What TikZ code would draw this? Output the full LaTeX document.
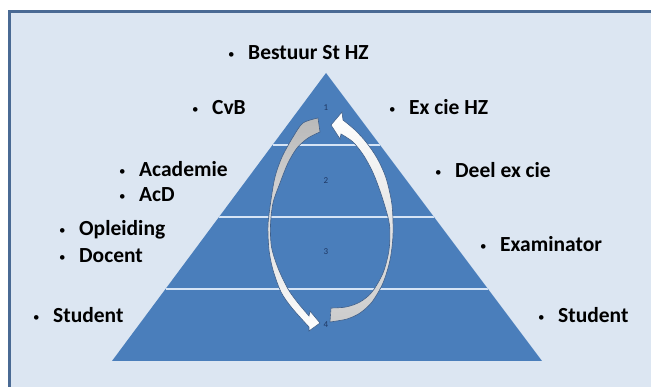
\documentclass[tikz,border=0pt]{standalone}
\usepackage{fontspec}
\setmainfont{Carlito}
\definecolor{achtergrond}{HTML}{DCE6F2}
\definecolor{kader}{HTML}{4A6A94}
\definecolor{piramide}{HTML}{4A7EBB}
\definecolor{lijn}{HTML}{D6E4F5}
\definecolor{cijfer}{HTML}{1F3864}
\definecolor{pijlrand}{HTML}{3F5F8A}
\tikzstyle{punt}=[anchor=base west,inner sep=0pt,font=\bfseries\fontsize{21.5}{24}\selectfont]
\newcommand{\opsom}{\makebox[20pt][l]{\raisebox{1.5pt}{\mdseries\fontsize{13}{13}\selectfont\textbullet}}}
\usetikzlibrary{calc}

\begin{document}
\begin{tikzpicture}[x=1pt,y=-1pt]
\tikzstyle{nummer}=[inner sep=0pt,text=cijfer,font=\fontsize{9}{10}\selectfont]
\tikzstyle{pijl}=[draw=pijlrand,line width=0.6pt]
  \useasboundingbox (0,0) rectangle (651,387);
  \fill[white] (0,0) rectangle (651,387);
  \draw[kader,line width=3pt,fill=achtergrond] (9.5,11.5) rectangle (670,400);
  % piramide met drie scheidslijnen
  \coordinate (top) at (326,73);
  \coordinate (lo) at (112,361);
  \coordinate (ro) at (542,361);
  \fill[piramide] (top) -- (lo) -- (ro) -- cycle;
  \begin{scope}
    \clip (top) -- (lo) -- (ro) -- cycle;
    \foreach \t in {0.25,0.5,0.75}
      \draw[lijn,line width=1.8pt] ($(top)!\t!(lo)$) -- ($(top)!\t!(ro)$);
  \end{scope}
  % pijl links, van 1 naar 4
  \shade[pijl,top color=gray!55,bottom color=white]
    plot[smooth] coordinates {(318,118) (303,123) (293,137) (282,157) (275,177)
      (271,200) (268,225) (269,250) (273,270) (281,292) (292,308) (309,327)}
    -- (309,331) -- (320,323) -- (310,311) -- (309,316)
    -- plot[smooth] coordinates {(309,316) (298,303) (288,289) (278,268) (271.5,247)
      (270.5,225) (273,203) (280,183) (288,163) (297,148) (308,138) (320,132)}
    -- cycle;
  % pijl rechts, van 4 naar 1
  \shade[pijl,top color=white,bottom color=gray!40]
    plot[smooth] coordinates {(330,322) (347,319) (360,313) (372,302) (383,283)
      (390,260) (393,235) (392,205) (386,178) (377,158) (366,142) (355,130) (343,120)}
    -- (342,112) -- (331,125) -- (340,139) -- (341,134)
    -- plot[smooth] coordinates {(341,134) (353,142) (364,156) (374,175) (383,200)
      (389.5,225) (389,250) (383,273) (372,292) (360,302) (346,307) (331,308)}
    -- cycle;
  \foreach \place/\name/\num in {{(326,108)/n1/1},
                                 {(326,181)/n2/2},
                                 {(326,252)/n3/3},
                                 {(326,325)/n4/4}}
    \node[nummer] (\name) at \place {\num};
  \foreach \x/\y/\name/\tekst in {231/53/bestuur/Bestuur St HZ,
                                  195/108/cvb/CvB,
                                  392/108/excie/Ex cie HZ,
                                  122/170/academie/Academie,
                                  122/195/acd/AcD,
                                  438/171/deel/Deel ex cie,
                                  62/229/opleiding/Opleiding,
                                  62/256/docent/Docent,
                                  483/245/examinator/Examinator,
                                  36/316/studentl/Student,
                                  541/316/studentr/Student}
    \node[punt] (\name) at (\x-3,\y+7) {\opsom\tekst};
\end{tikzpicture}
\end{document}
